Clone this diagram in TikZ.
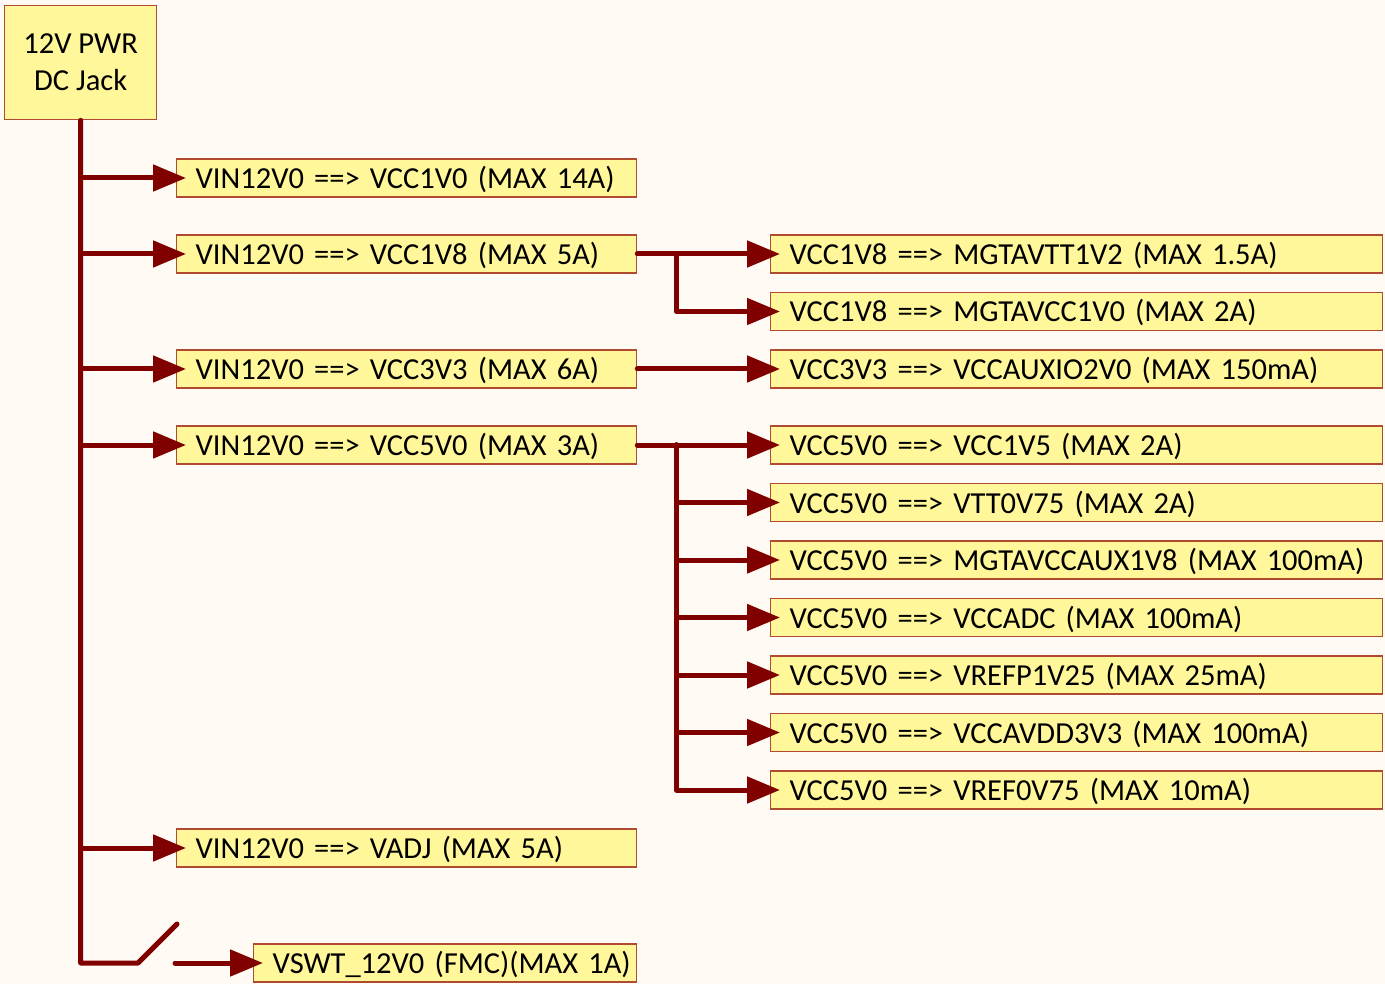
\documentclass[tikz,border=0pt]{standalone}
\usepackage{fontspec}
\setmainfont{Carlito}
\usepackage{xcolor}
\usetikzlibrary{arrows.meta, positioning}

\definecolor{fundo}{HTML}{FFFAF4}
\definecolor{amarelo}{HTML}{FFF799}
\definecolor{borda}{HTML}{B04A30}
\definecolor{trilha}{HTML}{800000}

\begin{document}
\begin{tikzpicture}[
            x=1pt, y=-1pt,
            node distance=18.2pt and 132.7pt,
            every node/.style={font=\fontsize{30.5}{37}\selectfont},
            caixa_fonte/.style={
                draw=borda, line width=1.3pt, fill=amarelo, align=center,
                minimum width=152pt, minimum height=114pt, inner sep=0pt
            },
            linha_unica/.style={
                execute at begin node={\hbox\bgroup},
                execute at end node={\egroup}
            },
            caixa_esq/.style={
                draw=borda, line width=1.3pt, fill=amarelo, linha_unica,
                minimum height=38pt, inner ysep=0pt, inner xsep=19pt,
                text height=25pt, text depth=4pt,
                text width=422pt, align=left
            },
            caixa_dir/.style={
                caixa_esq, text width=574pt
            },
            trilha/.style={draw=trilha, line width=5pt, line cap=round, line join=round},
            seta/.style={trilha, -{Triangle[length=33pt, width=26pt]}, shorten >=-10pt}
        ]
            \fill[fundo] (0,0) rectangle (1385,984);
            \useasboundingbox (0,0) rectangle (1385,984);

            % Entrada
            \node[caixa_fonte, anchor=north west] (jack) at (4,5) {12V PWR\\DC Jack};

            % --- Reguladores a partir de 12V ---
            \node[caixa_esq, anchor=west] (b1v0) at (176,178) {VIN12V0 ==> VCC1V0 (MAX 14A)};
            \node[caixa_esq, anchor=west] (b1v8) at (176,254) {VIN12V0 ==> VCC1V8 (MAX 5A)};
            \node[caixa_esq, anchor=west] (b3v3) at (176,369) {VIN12V0 ==> VCC3V3 (MAX 6A)};
            \node[caixa_esq, anchor=west] (b5v0) at (176,445) {VIN12V0 ==> VCC5V0 (MAX 3A)};
            \node[caixa_esq, anchor=west] (badj) at (176,848) {VIN12V0 ==> VADJ (MAX 5A)};
            \node[caixa_esq, anchor=west, text width=345pt] (bswt) at (253,963) {VSWT\_12V0 (FMC)(MAX 1A)};

            % --- Segundo nivel ---
            \node[caixa_dir, right=of b1v8] (r1v2) {VCC1V8 ==> MGTAVTT1V2 (MAX 1.5A)};
            \node[caixa_dir, below=of r1v2] (r1v0) {VCC1V8 ==> MGTAVCC1V0 (MAX 2A)};
            \node[caixa_dir, right=of b3v3] (rio) {VCC3V3 ==> VCCAUXIO2V0 (MAX 150mA)};
            \node[caixa_dir, right=of b5v0] (r1v5) {VCC5V0 ==> VCC1V5 (MAX 2A)};
            \node[caixa_dir, below=of r1v5] (rvtt) {VCC5V0 ==> VTT0V75 (MAX 2A)};
            \node[caixa_dir, below=of rvtt] (raux) {VCC5V0 ==> MGTAVCCAUX1V8 (MAX 100mA)};
            \node[caixa_dir, below=of raux] (radc) {VCC5V0 ==> VCCADC (MAX 100mA)};
            \node[caixa_dir, below=of radc] (rrefp) {VCC5V0 ==> VREFP1V25 (MAX 25mA)};
            \node[caixa_dir, below=of rrefp] (ravdd) {VCC5V0 ==> VCCAVDD3V3 (MAX 100mA)};
            \node[caixa_dir, below=of ravdd] (rref) {VCC5V0 ==> VREF0V75 (MAX 10mA)};

            % --- Barramento principal e chave ---
            \coordinate (fim) at (jack.south |- bswt.west);
            \coordinate (chaveA) at (138,963);
            \coordinate (chaveB) at (177,924);
            \coordinate (chaveS) at (175,963);
            \draw[trilha] (jack.south) -- (fim) -- (chaveA) -- (chaveB);
            \draw[seta] (chaveS) -- (bswt.west);

            \foreach \n in {b1v0, b1v8, b3v3, b5v0, badj}
                \draw[seta] (jack.south |- \n.west) -- (\n.west);

            % --- Ramos do segundo nivel ---
            \coordinate (t18) at ([xshift=39pt]b1v8.east);
            \coordinate (t50) at ([xshift=39pt]b5v0.east);
            \draw[seta] (b1v8.east) -- (r1v2.west);
            \draw[seta] (t18) |- (r1v0.west);
            \draw[seta] (b3v3.east) -- (rio.west);
            \draw[seta] (b5v0.east) -- (r1v5.west);
            \foreach \n in {rvtt, raux, radc, rrefp, ravdd, rref}
                \draw[seta] (t50) |- (\n.west);

        \end{tikzpicture}
\end{document}
